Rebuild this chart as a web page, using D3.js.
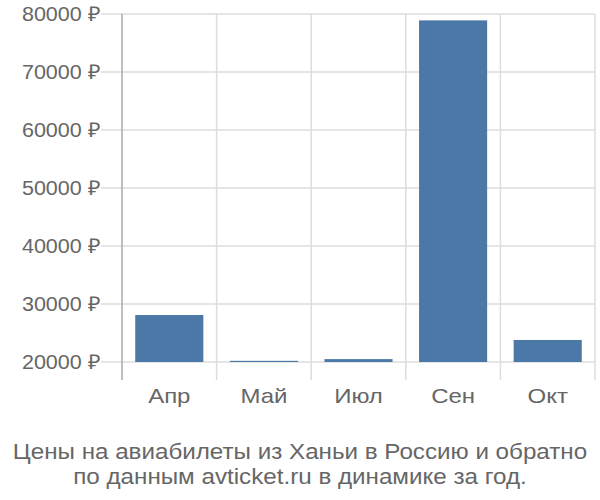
<!DOCTYPE html>
<html>
<head>
<meta charset="utf-8">
<script src="https://cdn.jsdelivr.net/npm/d3@7"></script>
<style>
  body { margin: 0; background: #fff; }
  svg text { font-family: "Liberation Sans", Arial, sans-serif; fill: #666; }
</style>
</head>
<body>
<svg id="chart" width="600" height="500"></svg>
<script>
const months = ["Апр", "Май", "Июл", "Сен", "Окт"];
const prices = [28100, 20200, 20500, 78900, 23800];
const yTicks = [20000, 30000, 40000, 50000, 60000, 70000, 80000];
const titleLines = ["Цены на авиабилеты из Ханьи в Россию и обратно", "по данным avticket.ru в динамике за год."];

const chart = d3.select("#chart");

let plotLeft = 122, plotRight = 595, plotTop = 14, plotBottom = 362, axisBottom = 380;

const x = d3.scaleBand()
            .domain(months)
            .range([plotLeft, plotRight])
            .paddingInner(0.28)
            .paddingOuter(0.14);

const y = d3.scaleLinear()
            .domain([20000, 80000])
            .range([plotBottom, plotTop]);

// horizontal grid
const grid = chart.append("g");
grid.selectAll("line.h")
    .data(yTicks)
    .join("line")
      .attr("class", "h")
      .attr("x1", 101)
      .attr("x2", plotRight)
      .attr("y1", d => y(d))
      .attr("y2", d => y(d))
      .attr("stroke", "#ddd")
      .attr("stroke-width", 1.5);

// vertical grid lines at band edges
const step = x.step();
const edges = months.map((m, i) => plotLeft + step * (i + 1));
grid.selectAll("line.v")
    .data(edges)
    .join("line")
      .attr("class", "v")
      .attr("x1", d => d)
      .attr("x2", d => d)
      .attr("y1", plotTop)
      .attr("y2", axisBottom)
      .attr("stroke", "#ddd")
      .attr("stroke-width", 1.5);

// y axis line
chart.append("line")
     .attr("x1", plotLeft).attr("x2", plotLeft)
     .attr("y1", plotTop).attr("y2", axisBottom)
     .attr("stroke", "#aaa")
     .attr("stroke-width", 1.5);

chart.append("g")
    .selectAll("text")
    .data(yTicks)
    .join("text")
      .attr("transform", d => `translate(100,${y(d)}) scale(1.05,1)`)
      .attr("dy", "0.35em")
      .attr("text-anchor", "end")
      .attr("font-size", 20.5)
      .text(d => d + " ₽");

// bars
chart.append("g")
    .selectAll("rect")
    .data(months.map((m, i) => ({month: m, value: prices[i]})))
    .join("rect")
      .attr("x", d => x(d.month))
      .attr("width", x.bandwidth())
      .attr("y", d => y(d.value))
      .attr("height", d => y(20000) - y(d.value))
      .attr("fill", "#4c78a8");

// month labels
chart.append("g")
    .selectAll("text")
    .data(months)
    .join("text")
      .attr("transform", d => `translate(${x(d) + x.bandwidth() / 2},403) scale(1.2,1)`)
      .attr("text-anchor", "middle")
      .attr("font-size", 20)
      .text(d => d);

// title
chart.append("g")
    .selectAll("text")
    .data(titleLines)
    .join("text")
      .attr("transform", (d, i) => `translate(300,${459 + i * 25}) scale(1.1,1)`)
      .attr("text-anchor", "middle")
      .attr("font-size", 22)
      .text(d => d);
</script>
</body>
</html>
